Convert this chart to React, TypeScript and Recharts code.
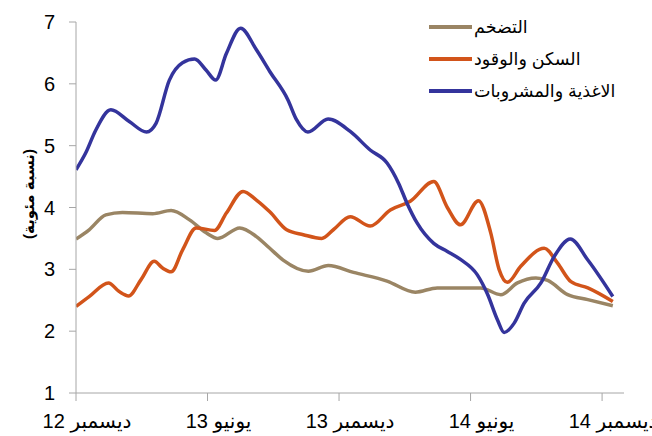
import { LineChart, Line, XAxis, YAxis, Legend } from 'recharts'

// months counted from Dec 2012, values in percent
const inflationMonths = [0, 0.6, 1.36, 2.12, 3.5, 4.34, 5.18, 5.94, 6.47, 7.47, 8.23, 8.84, 9.45, 10.6, 11.51, 12.66, 14.19, 15.48, 16.48, 18.46, 19.38, 20.14, 20.98, 21.52, 22.43, 23.35, 24.49]
const inflationValues = [3.49, 3.64, 3.88, 3.92, 3.9, 3.95, 3.8, 3.59, 3.5, 3.67, 3.53, 3.34, 3.15, 2.97, 3.06, 2.95, 2.81, 2.63, 2.7, 2.7, 2.59, 2.78, 2.86, 2.82, 2.59, 2.51, 2.41]

const housingMonths = [0, 0.6, 1.48, 1.97, 2.4, 2.96, 3.57, 3.95, 4.34, 4.87, 5.48, 6.32, 6.86, 7.62, 8.23, 8.84, 9.61, 10.37, 11.21, 11.74, 12.51, 13.42, 14.34, 15.25, 16.32, 16.94, 17.54, 18.36, 18.92, 19.3, 19.68, 20.29, 21.36, 21.97, 22.58, 23.35, 24.49]
const housingValues = [2.4, 2.56, 2.78, 2.64, 2.57, 2.83, 3.13, 3.02, 2.96, 3.32, 3.67, 3.63, 3.91, 4.26, 4.12, 3.93, 3.64, 3.56, 3.5, 3.64, 3.85, 3.7, 3.96, 4.1, 4.42, 4.0, 3.72, 4.11, 3.59, 3.0, 2.79, 3.05, 3.34, 3.1, 2.8, 2.7, 2.48]

const foodMonths = [0, 0.44, 0.9, 1.59, 2.43, 3.22, 3.65, 4.26, 4.86, 5.41, 5.94, 6.37, 6.86, 7.51, 8.23, 8.84, 9.67, 10.06, 10.58, 11.5, 12.51, 13.42, 14.19, 14.72, 15.1, 15.56, 16.32, 16.94, 17.54, 18.31, 18.77, 19.23, 19.53, 19.99, 20.44, 21.21, 21.82, 22.55, 23.35, 24.49]
const foodValues = [4.61, 4.88, 5.25, 5.58, 5.39, 5.22, 5.36, 6.06, 6.34, 6.4, 6.22, 6.06, 6.49, 6.9, 6.55, 6.2, 5.74, 5.42, 5.22, 5.43, 5.23, 4.93, 4.72, 4.39, 4.07, 3.75, 3.42, 3.29, 3.16, 2.91, 2.6, 2.18, 1.98, 2.13, 2.45, 2.78, 3.21, 3.49, 3.15, 2.56]

const xTicks = [0, 6, 12, 18, 24]
const xTickLabels = ['ديسمبر 12', 'يونيو 13', 'ديسمبر 13', 'يونيو 14', 'ديسمبر 14']
const yTicks = [1, 2, 3, 4, 5, 6, 7]

const seriesNames = ['التضخم', 'السكن والوقود', 'الاغذية والمشروبات']
const seriesColors = ['#9a8564', '#d2541a', '#34349c']

const toPoints = (months: number[], values: number[]) =>
  months.map((m, i) => ({ m, v: values[i] }))

const FONT = '"Liberation Sans", Arial, "DejaVu Sans", sans-serif'

const MonthTick = ({ x, y, payload }: any) => {
  const idx = xTicks.indexOf(payload.value)
  return (
    <text x={x} y={y} dx={11} dy={25} textAnchor="middle" direction="rtl" fontSize={20} fill="#000">
      {xTickLabels[idx]}
    </text>
  )
}

const renderLegend = (props: any) => (
  <div style={{ fontFamily: FONT }}>
    {props.payload.map((entry: any) => (
      <div key={entry.value} style={{ display: 'flex', alignItems: 'center', height: 32 }}>
        <span style={{ display: 'inline-block', width: 43, height: 4, background: entry.color }} />
        <span style={{ fontSize: 17.5, marginLeft: 2, color: '#000' }}>{entry.value}</span>
      </div>
    ))}
  </div>
)

export default function App() {
  return (
    <div style={{ position: 'absolute', left: 0, top: 0, background: '#fff' }}>
      <LineChart
        width={652}
        height={436}
        margin={{ top: 22, right: 28, bottom: 0, left: 0 }}
        style={{ fontFamily: FONT }}
      >
        <XAxis
          type="number"
          dataKey="m"
          domain={[0, 25]}
          ticks={xTicks}
          tick={<MonthTick />}
          tickSize={8}
          height={43}
          stroke="#a6a6a6"
          allowDataOverflow
        />
        <YAxis
          type="number"
          domain={[1, 7]}
          ticks={yTicks}
          tickSize={7}
          tickMargin={14}
          width={76}
          stroke="#a6a6a6"
          tick={{ fill: '#000', fontSize: 20 }}
          label={{
            content: () => (
              <text
                x={28}
                y={194}
                transform="rotate(-90, 28, 194)"
                textAnchor="middle"
                dominantBaseline="central"
                fontSize={15}
                fontWeight="bold"
                fill="#000"
              >
                (نسبة مئوية)
              </text>
            ),
          }}
        />
        <Legend
          layout="vertical"
          align="center"
          verticalAlign="middle"
          content={renderLegend}
          itemSorter={(item: any) => seriesNames.indexOf(item.value)}
          wrapperStyle={{ top: 11, left: 429, width: 220 }}
        />
        <Line
          data={toPoints(inflationMonths, inflationValues)}
          dataKey="v"
          name={seriesNames[0]}
          type="monotone"
          stroke={seriesColors[0]}
          strokeWidth={3.5}
          dot={false}
          isAnimationActive={false}
        />
        <Line
          data={toPoints(housingMonths, housingValues)}
          dataKey="v"
          name={seriesNames[1]}
          type="monotone"
          stroke={seriesColors[1]}
          strokeWidth={3.5}
          dot={false}
          isAnimationActive={false}
        />
        <Line
          data={toPoints(foodMonths, foodValues)}
          dataKey="v"
          name={seriesNames[2]}
          type="monotone"
          stroke={seriesColors[2]}
          strokeWidth={3.5}
          dot={false}
          isAnimationActive={false}
        />
      </LineChart>
    </div>
  )
}
